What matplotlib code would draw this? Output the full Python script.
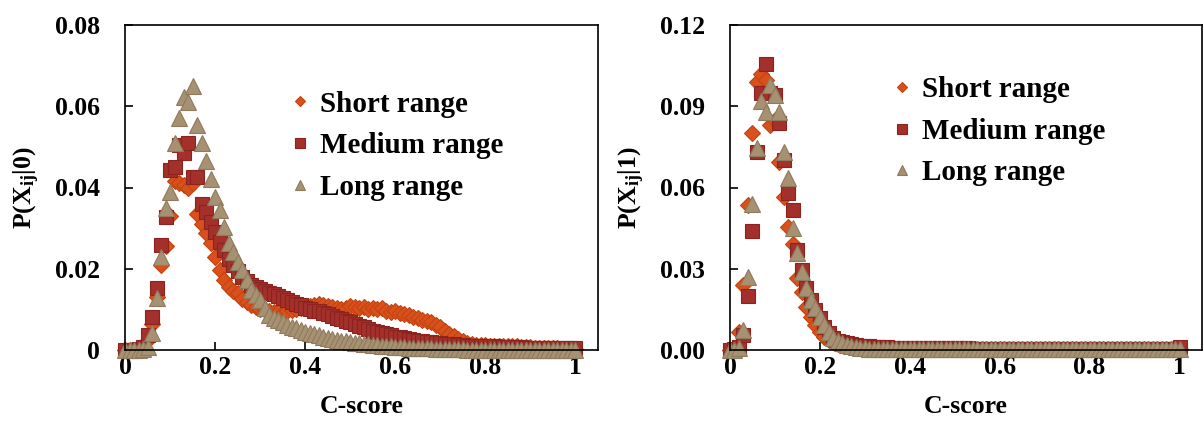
import numpy as np
import matplotlib
matplotlib.use("Agg")
import matplotlib.pyplot as plt

plt.rcParams["font.family"] = ["Liberation Serif", "DejaVu Serif"]
plt.rcParams["font.weight"] = "bold"
plt.rcParams["mathtext.fontset"] = "custom"
plt.rcParams["mathtext.rm"] = "Liberation Serif:bold"
plt.rcParams["mathtext.bf"] = "Liberation Serif:bold"
plt.rcParams["mathtext.it"] = "Liberation Serif:bold"

# C-score bins 0.00 .. 1.00
cscore = [round(0.01 * i, 2) for i in range(101)]

# ---- P(X_ij | 0) ----
short0 = [0, 0, 0, 0.0002, 0.0008, 0.0025, 0.0065, 0.013, 0.021, 0.0255,
          0.033, 0.0415, 0.041, 0.0405, 0.040, 0.041, 0.0335, 0.031, 0.0288, 0.0263,
          0.023, 0.0197, 0.0172, 0.0155, 0.0145, 0.014, 0.0125, 0.0118, 0.011, 0.0106,
          0.0102, 0.0098, 0.0095, 0.0094, 0.0093, 0.0092, 0.0095, 0.0098, 0.0100, 0.0104,
          0.0106, 0.0108, 0.0110, 0.0113, 0.0110, 0.0108, 0.0106, 0.0103, 0.0101, 0.0104,
          0.0108, 0.0105, 0.0103, 0.0106, 0.0100, 0.0104, 0.0100, 0.0103, 0.0097, 0.0094,
          0.0096, 0.0091, 0.0088, 0.0085, 0.0082, 0.0078, 0.0074, 0.0072, 0.0068, 0.0062,
          0.0056, 0.0048, 0.0040, 0.0034, 0.0028, 0.0022, 0.0018, 0.0015, 0.0013, 0.0012,
          0.0012, 0.0011, 0.0011, 0.0010, 0.0011, 0.0010, 0.0009, 0.0009, 0.0008, 0.0008,
          0.0007, 0.0006, 0.0005, 0.0005, 0.0004, 0.0004, 0.0004, 0.0003, 0.0003, 0.0003,
          0.0003]
medium0 = [0, 0, 0, 0.0002, 0.0008, 0.0037, 0.0081, 0.0153, 0.0258, 0.0327,
           0.0443, 0.045, 0.0504, 0.0485, 0.051, 0.0426, 0.0426, 0.036, 0.034, 0.0315,
           0.029, 0.0265, 0.0245, 0.0225, 0.021, 0.0195, 0.018, 0.017, 0.016, 0.0155,
           0.015, 0.0145, 0.014, 0.0138, 0.0132, 0.0128, 0.0122, 0.0118, 0.0114, 0.011,
           0.0104, 0.0100, 0.0097, 0.0095, 0.0092, 0.0088, 0.0084, 0.008, 0.0076, 0.0072,
           0.0068, 0.0064, 0.006, 0.0056, 0.0052, 0.0048, 0.0045, 0.0042, 0.0039, 0.0036,
           0.0033, 0.0031, 0.0029, 0.0027, 0.0025, 0.0023, 0.0021, 0.002, 0.0019, 0.0018,
           0.0017, 0.0016, 0.0015, 0.0014, 0.0013, 0.0012, 0.0011, 0.0011, 0.0010, 0.0010,
           0.0009, 0.0009, 0.0009, 0.0008, 0.0008, 0.0008, 0.0007, 0.0007, 0.0007, 0.0006,
           0.0006, 0.0006, 0.0006, 0.0005, 0.0005, 0.0005, 0.0005, 0.0005, 0.0004, 0.0004,
           0.0004]
long0 = [0, 0, 0, 0.0001, 0.0003, 0.0008, 0.0042, 0.0128, 0.023, 0.035,
         0.039, 0.051, 0.057, 0.0623, 0.061, 0.065, 0.0554, 0.051, 0.0465, 0.042,
         0.0377, 0.0345, 0.0303, 0.0263, 0.0241, 0.0216, 0.0197, 0.0172, 0.0148, 0.0135,
         0.0123, 0.0103, 0.0086, 0.0079, 0.0074, 0.0068, 0.0062, 0.0057, 0.0053, 0.0049,
         0.0045, 0.0042, 0.0039, 0.0036, 0.0033, 0.003, 0.0028, 0.0025, 0.0023, 0.0021,
         0.002, 0.0018, 0.0017, 0.0015, 0.0014, 0.0013, 0.0012, 0.0011, 0.001, 0.0009,
         0.0008, 0.0007, 0.0007, 0.0006, 0.0006, 0.0005, 0.0005, 0.0004, 0.0004, 0.0003,
         0.0003, 0.0003, 0.0002, 0.0002, 0.0002, 0.0002, 0.0001, 0.0001, 0.0001, 0.0001,
         0.0001, 0.0001, 0.0001, 0.0001, 0.0001, 0.0001, 0.0001, 0.0001, 0.0001, 0.0001,
         0.0001, 0.0001, 0.0001, 0.0001, 0.0001, 0.0001, 0.0001, 0.0001, 0.0001, 0.0001,
         0.0001]

# ---- P(X_ij | 1) ----
short1 = [0, 0.0005, 0.0066, 0.024, 0.0535, 0.080, 0.099, 0.102, 0.0996, 0.083,
          0.085, 0.0694, 0.0565, 0.0454, 0.039, 0.0266, 0.0214, 0.0159, 0.0122, 0.0092,
          0.0066, 0.0048, 0.0036, 0.0028, 0.0022, 0.0017, 0.0014, 0.0011, 0.0009, 0.0008,
          0.0007, 0.0007, 0.0006, 0.0006, 0.0006, 0.0006, 0.0005, 0.0005, 0.0005, 0.0005,
          0.0005, 0.0005, 0.0005, 0.0005, 0.0004, 0.0004, 0.0004, 0.0004, 0.0004, 0.0004,
          0.0004, 0.0004, 0.0004, 0.0004, 0.0004, 0.0004, 0.0004, 0.0004, 0.0004, 0.0004,
          0.0004, 0.0004, 0.0003, 0.0003, 0.0003, 0.0003, 0.0003, 0.0003, 0.0003, 0.0003,
          0.0003, 0.0003, 0.0003, 0.0003, 0.0003, 0.0003, 0.0003, 0.0003, 0.0003, 0.0003,
          0.0003, 0.0003, 0.0003, 0.0003, 0.0003, 0.0003, 0.0003, 0.0003, 0.0003, 0.0003,
          0.0003, 0.0003, 0.0003, 0.0003, 0.0003, 0.0003, 0.0003, 0.0003, 0.0003, 0.0003,
          0.0003]
medium1 = [0, 0.0003, 0.001, 0.0055, 0.020, 0.044, 0.073, 0.0948, 0.1055, 0.095,
           0.094, 0.0838, 0.070, 0.058, 0.0517, 0.037, 0.0295, 0.023, 0.0185, 0.0148,
           0.0118, 0.0085, 0.0063, 0.0044, 0.0035, 0.003, 0.0025, 0.0021, 0.0018, 0.0016,
           0.0014, 0.0013, 0.0012, 0.0011, 0.0010, 0.0010, 0.0009, 0.0009, 0.0008, 0.0008,
           0.0008, 0.0007, 0.0007, 0.0007, 0.0007, 0.0007, 0.0006, 0.0006, 0.0006, 0.0006,
           0.0006, 0.0006, 0.0006, 0.0006, 0.0005, 0.0005, 0.0005, 0.0005, 0.0005, 0.0005,
           0.0005, 0.0005, 0.0005, 0.0005, 0.0005, 0.0005, 0.0005, 0.0005, 0.0005, 0.0005,
           0.0005, 0.0005, 0.0005, 0.0005, 0.0005, 0.0005, 0.0005, 0.0005, 0.0005, 0.0005,
           0.0004, 0.0004, 0.0004, 0.0004, 0.0004, 0.0004, 0.0004, 0.0004, 0.0004, 0.0004,
           0.0004, 0.0004, 0.0004, 0.0004, 0.0004, 0.0004, 0.0004, 0.0004, 0.0004, 0.0004,
           0.0012]
long1 = [0, 0, 0.0007, 0.0074, 0.027, 0.054, 0.0745, 0.092, 0.088, 0.098,
         0.094, 0.088, 0.073, 0.0635, 0.045, 0.036, 0.0288, 0.0229, 0.0185, 0.0155,
         0.0122, 0.0092, 0.0066, 0.0044, 0.0032, 0.0026, 0.002, 0.0015, 0.001, 0.0007,
         0.0006, 0.0005, 0.0005, 0.0004, 0.0004, 0.0004, 0.0003, 0.0003, 0.0003, 0.0003,
         0.0003, 0.0003, 0.0002, 0.0002, 0.0002, 0.0002, 0.0002, 0.0002, 0.0002, 0.0002,
         0.0002, 0.0002, 0.0002, 0.0002, 0.0002, 0.0002, 0.0002, 0.0002, 0.0002, 0.0002,
         0.0002, 0.0002, 0.0002, 0.0002, 0.0002, 0.0002, 0.0002, 0.0002, 0.0002, 0.0002,
         0.0002, 0.0002, 0.0002, 0.0002, 0.0002, 0.0002, 0.0002, 0.0002, 0.0002, 0.0002,
         0.0002, 0.0002, 0.0002, 0.0002, 0.0002, 0.0002, 0.0002, 0.0002, 0.0002, 0.0002,
         0.0002, 0.0002, 0.0002, 0.0002, 0.0002, 0.0002, 0.0002, 0.0002, 0.0002, 0.0002,
         0.0002]

labels = ["Short range", "Medium range", "Long range"]
yticks0 = [0, 0.02, 0.04, 0.06, 0.08]
yticks1 = [0, 0.03, 0.06, 0.09, 0.12]
xticks = [0, 0.2, 0.4, 0.6, 0.8, 1]

styles = [
    dict(marker="D", ms=8.0, mfc="#D9501C", mec="#C2440F"),
    dict(marker="s", ms=9.5, mfc="#A3302A", mec="#8C231E"),
    dict(marker="^", ms=11.0, mfc="#A69272", mec="#8E7B5D"),
]

fig = plt.figure(figsize=(12.03, 4.41), dpi=100)
ax0 = fig.add_axes([125 / 1203, 91 / 441, 473 / 1203, 325 / 441])
ax1 = fig.add_axes([730 / 1203, 91 / 441, 472 / 1203, 325 / 441])

panels = [
    (ax0, [short0, medium0, long0], yticks0, ["0", "0.02", "0.04", "0.06", "0.08"],
     r"P(X$_\mathrm{ij}$|0)", (0.32, 0.843)),
    (ax1, [short1, medium1, long1], yticks1, ["0.00", "0.03", "0.06", "0.09", "0.12"],
     r"P(X$_\mathrm{ij}$|1)", (0.315, 0.887)),
]

for ax, series, yt, ytl, ylab, legpos in panels:
    for ys, lab, st in zip(series, labels, styles):
        ax.plot(cscore, ys, ls="none", mew=0.8, label=lab, clip_on=False, **st)
    ax.set_xlim(0, 1.05)
    ax.set_ylim(0, yt[-1])
    ax.set_xticks(xticks)
    ax.set_xticklabels(["0", "0.2", "0.4", "0.6", "0.8", "1"])
    ax.set_yticks(yt)
    ax.set_yticklabels(ytl)
    ax.tick_params(direction="in", length=6, width=1.2, labelsize=18.5)
    ax.tick_params(axis="x", pad=4)
    ax.tick_params(axis="y", pad=18)
    for sp in ax.spines.values():
        sp.set_linewidth(1.2)
    ax.set_xlabel("C-score", fontsize=18.5, fontweight="bold", labelpad=12)
    ax.set_ylabel(ylab, fontsize=18.5, fontweight="bold", labelpad=9)
    ax.legend(loc="upper left", bbox_to_anchor=legpos, frameon=False, fontsize=21,
              markerscale=0.7, handlelength=0.6, handletextpad=0.4, labelspacing=0.5,
              borderpad=0)

fig.savefig("out.png", dpi=100)
